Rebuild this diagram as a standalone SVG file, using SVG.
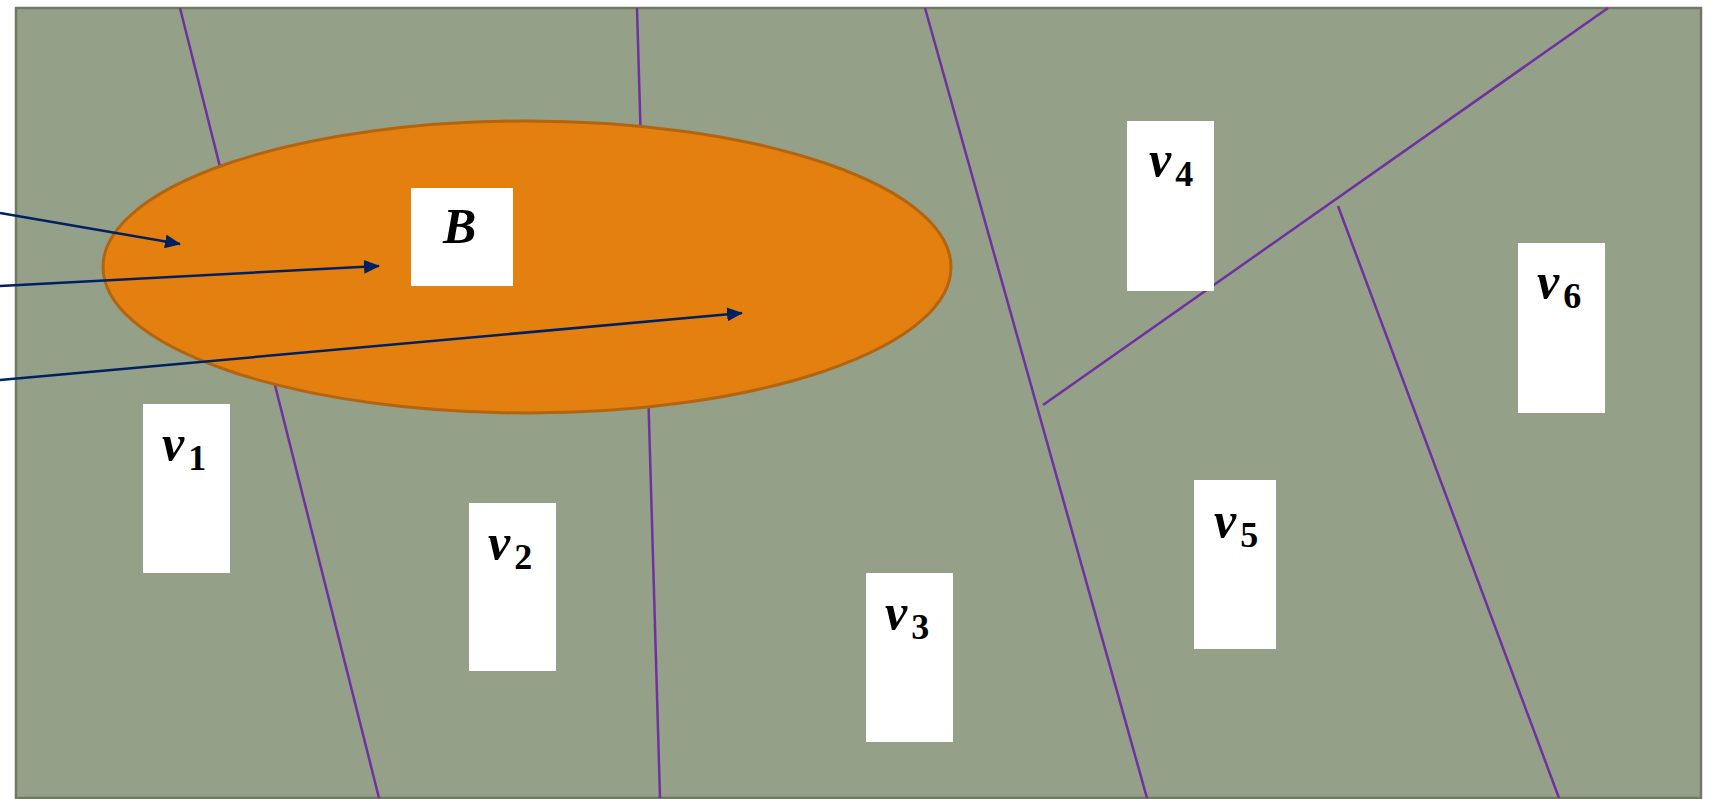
<svg xmlns="http://www.w3.org/2000/svg" width="1711" height="799" viewBox="0 0 1711 799">
  <style>
    .frame { fill: #94a088; stroke: #6f7a66; stroke-width: 2.5; }
    .cut { stroke: #7030a0; stroke-width: 2.5; fill: none; }
    .blob { fill: #e4800f; stroke: #b3640e; stroke-width: 3; }
    .box { fill: #ffffff; }
    .var { font-family: "Liberation Serif", "DejaVu Serif", serif; font-style: italic; font-weight: bold; font-size: 50px; fill: #000; }
    .sub { font-family: "Liberation Serif", "DejaVu Serif", serif; font-style: normal; font-weight: bold; font-size: 36px; fill: #000; }
    .ptr { stroke: #002060; stroke-width: 2.5; fill: none; marker-end: url(#tip); }
  </style>
  <defs>
    <marker id="tip" viewBox="0 0 16 14" refX="15" refY="7" markerWidth="16" markerHeight="14" markerUnits="userSpaceOnUse" orient="auto">
      <path d="M0,0 L16,7 L0,14 Z" fill="#002060"/>
    </marker>
  </defs>

  <!-- background region -->
  <rect class="frame" x="16" y="8" width="1685" height="790"/>

  <!-- partition lines -->
  <g id="partition">
    <line class="cut" x1="180" y1="8" x2="379" y2="798"/>
    <line class="cut" x1="637" y1="8" x2="660" y2="798"/>
    <line class="cut" x1="925" y1="8" x2="1147" y2="798"/>
    <line class="cut" x1="1608" y1="8" x2="1043" y2="405"/>
    <line class="cut" x1="1338" y1="206" x2="1559" y2="798"/>
  </g>

  <!-- orange region -->
  <ellipse id="region" class="blob" cx="527" cy="267" rx="424" ry="146"/>

  <g id="node-B">
    <rect class="box" x="411" y="188" width="102" height="98"/>
    <text class="var" x="443" y="243">B</text>
  </g>
  <g id="node-v1">
    <rect class="box" x="143" y="404" width="87" height="169"/>
    <text class="var" x="162" y="460">v<tspan class="sub" dx="4" dy="10">1</tspan></text>
  </g>
  <g id="node-v2">
    <rect class="box" x="469" y="503" width="87" height="168"/>
    <text class="var" x="488" y="559">v<tspan class="sub" dx="4" dy="10">2</tspan></text>
  </g>
  <g id="node-v3">
    <rect class="box" x="866" y="573" width="87" height="169"/>
    <text class="var" x="885" y="629">v<tspan class="sub" dx="4" dy="10">3</tspan></text>
  </g>
  <g id="node-v4">
    <rect class="box" x="1127" y="121" width="87" height="170"/>
    <text class="var" x="1149" y="176">v<tspan class="sub" dx="4" dy="10">4</tspan></text>
  </g>
  <g id="node-v5">
    <rect class="box" x="1194" y="480" width="82" height="169"/>
    <text class="var" x="1214" y="537">v<tspan class="sub" dx="4" dy="10">5</tspan></text>
  </g>
  <g id="node-v6">
    <rect class="box" x="1518" y="243" width="87" height="170"/>
    <text class="var" x="1537" y="298">v<tspan class="sub" dx="4" dy="10">6</tspan></text>
  </g>

  <!-- incoming pointers -->
  <g id="connectors">
    <line class="ptr" x1="0" y1="213" x2="180" y2="244"/>
    <line class="ptr" x1="0" y1="286" x2="379" y2="266"/>
    <line class="ptr" x1="0" y1="380" x2="742" y2="313"/>
  </g>
</svg>
